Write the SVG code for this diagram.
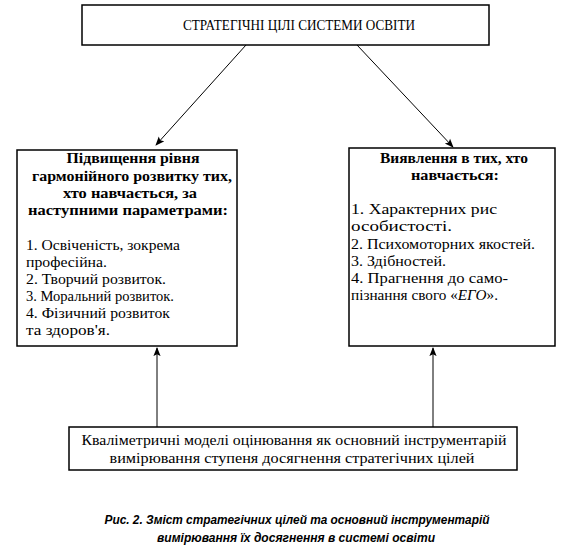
<svg xmlns="http://www.w3.org/2000/svg" width="570" height="552" viewBox="0 0 570 552">
<style>
.box{fill:#fff;stroke:#000;stroke-width:1.5}
.t{font-family:"Liberation Serif",serif;font-size:15px;fill:#000}
.h{font-family:"Liberation Serif",serif;font-size:14px;font-weight:bold;fill:#000;text-anchor:middle}
.c{font-family:"Liberation Sans",sans-serif;font-size:12px;font-weight:bold;font-style:italic;fill:#000;text-anchor:middle}
.con{stroke:#000;stroke-width:1;fill:none;marker-end:url(#ah)}
</style>
<defs>
<marker id="ah" viewBox="0 0 10 10" refX="9" refY="5" markerWidth="9" markerHeight="9" markerUnits="userSpaceOnUse" orient="auto">
<path d="M0,1 L10,5 L0,9 L2,5 Z" fill="#000"/>
</marker>
</defs>
<rect width="570" height="552" fill="#fff"/>
<g id="connectors">
<line class="con" x1="246" y1="45" x2="156" y2="145"/>
<line class="con" x1="357" y1="45" x2="453" y2="147"/>
<line class="con" x1="157" y1="427" x2="157" y2="348"/>
<line class="con" x1="433" y1="427" x2="433" y2="348"/>
</g>
<g id="top">
<rect class="box" x="82" y="5" width="407" height="40"/>
<text class="t" x="299" y="30" text-anchor="middle" textLength="232" lengthAdjust="spacingAndGlyphs" style="font-size:14px">СТРАТЕГІЧНІ ЦІЛІ СИСТЕМИ ОСВІТИ</text>
</g>
<g id="left">
<rect class="box" x="17" y="150" width="220" height="196"/>
<text class="h" x="133" y="163" textLength="133" lengthAdjust="spacingAndGlyphs">Підвищення рівня</text>
<text class="h" x="132" y="181" textLength="200" lengthAdjust="spacingAndGlyphs">гармонійного розвитку тих,</text>
<text class="h" x="130" y="198" textLength="134" lengthAdjust="spacingAndGlyphs">хто навчається, за</text>
<text class="h" x="128" y="215" textLength="200" lengthAdjust="spacingAndGlyphs">наступними параметрами:</text>
<text class="t" x="26" y="250" textLength="154" lengthAdjust="spacingAndGlyphs">1. Освіченість, зокрема</text>
<text class="t" x="26" y="267" textLength="81" lengthAdjust="spacingAndGlyphs">професійна.</text>
<text class="t" x="26" y="284" textLength="140" lengthAdjust="spacingAndGlyphs">2. Творчий розвиток.</text>
<text class="t" x="26" y="301" textLength="148" lengthAdjust="spacingAndGlyphs">3. Моральний розвиток.</text>
<text class="t" x="26" y="318" textLength="144" lengthAdjust="spacingAndGlyphs">4. Фізичний розвиток</text>
<text class="t" x="26" y="335" textLength="84" lengthAdjust="spacingAndGlyphs">та здоров'я.</text>
</g>
<g id="right">
<rect class="box" x="349" y="148" width="206" height="198"/>
<text class="h" x="454" y="163" textLength="148" lengthAdjust="spacingAndGlyphs">Виявлення в тих, хто</text>
<text class="h" x="455" y="180" textLength="88" lengthAdjust="spacingAndGlyphs">навчається:</text>
<text class="t" x="351" y="214" textLength="146" lengthAdjust="spacingAndGlyphs">1. Характерних рис</text>
<text class="t" x="351" y="231" textLength="101" lengthAdjust="spacingAndGlyphs">особистості.</text>
<text class="t" x="351" y="249" textLength="184" lengthAdjust="spacingAndGlyphs">2. Психомоторних якостей.</text>
<text class="t" x="351" y="266" textLength="95" lengthAdjust="spacingAndGlyphs">3. Здібностей.</text>
<text class="t" x="351" y="283" textLength="157" lengthAdjust="spacingAndGlyphs">4. Прагнення до само-</text>
<text class="t" x="351" y="300" textLength="147" lengthAdjust="spacingAndGlyphs">пізнання свого «<tspan font-style="italic">ЕГО</tspan>».</text>
</g>
<g id="bottom">
<rect class="box" x="69" y="427" width="448" height="43"/>
<text class="t" x="294" y="445" text-anchor="middle" textLength="425" lengthAdjust="spacingAndGlyphs" style="font-size:14px">Кваліметричні моделі оцінювання як основний інструментарій</text>
<text class="t" x="292" y="463" text-anchor="middle" textLength="365" lengthAdjust="spacingAndGlyphs" style="font-size:14px">вимірювання ступеня досягнення стратегічних цілей</text>
</g>
<g id="caption">
<text class="c" x="297" y="524" textLength="385" lengthAdjust="spacingAndGlyphs">Рис. 2. Зміст стратегічних цілей та основний інструментарій</text>
<text class="c" x="296" y="542" textLength="278" lengthAdjust="spacingAndGlyphs">вимірювання їх досягнення в системі освіти</text>
</g>
</svg>
